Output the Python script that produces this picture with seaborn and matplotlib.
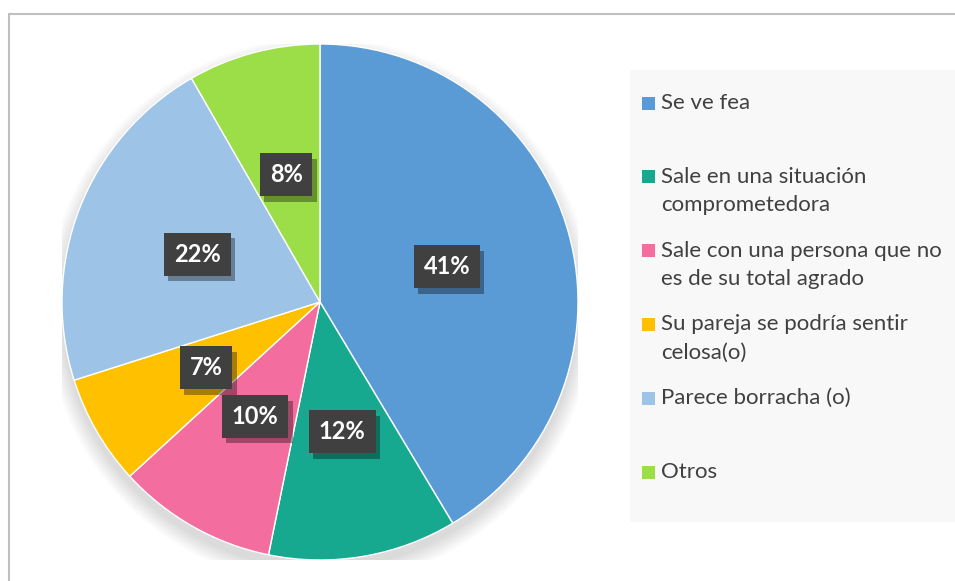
import matplotlib
matplotlib.use("Agg")
import matplotlib.pyplot as plt
import matplotlib.patches as mpatches
import matplotlib.patheffects as pe
import numpy as np
import seaborn as sns

categories = ["Se ve fea", "Sale en una situación\ncomprometedora",
              "Sale con una persona que no\nes de su total agrado",
              "Su pareja se podría sentir\ncelosa(o)", "Parece borracha (o)", "Otros"]
values = [41.4, 11.8, 10.0, 6.9, 21.6, 8.3]
colors_hex = ["#5B9BD5", "#17A990", "#F46D9F", "#FFC000", "#9DC3E6", "#9BDE48"]

sns.set_theme(style="white")
plt.rcParams['font.family'] = ['Lato', 'DejaVu Sans']
palette = sns.color_palette(colors_hex)

W, H = 955, 581
fig = plt.figure(figsize=(W / 100, H / 100), dpi=100)
fig.patch.set_facecolor("white")

# frame
fig.patches.append(mpatches.Rectangle((9 / W, -0.1), 1.2, (H - 14) / H + 0.1,
                                      transform=fig.transFigure, fill=False,
                                      edgecolor="#BFBFBF", linewidth=1.5))
# legend background
fig.patches.append(mpatches.Rectangle((630 / W, (H - 522) / H), (W - 630) / W, 452 / H,
                                      transform=fig.transFigure, facecolor="#F8F8F8",
                                      edgecolor="none", zorder=0))

cx, cy, r = 320, 302, 258
ax = fig.add_axes([(cx - r) / W, (H - cy - r) / H, 2 * r / W, 2 * r / H])

# soft shadow
for k in range(12):
    rr = 1.0 + 0.06 * (k / 11)
    ax.add_patch(mpatches.Circle((0, -0.035), rr, facecolor="black",
                                 alpha=0.012, edgecolor="none", zorder=0))

wedges, texts, autotexts = ax.pie(values, colors=palette, startangle=90, counterclock=False,
                                  radius=1.0, autopct=lambda p: f"{p:.0f}%", pctdistance=0.51,
                                  wedgeprops=dict(edgecolor="white", linewidth=1.0),
                                  textprops=dict(color="white", fontsize=17, fontweight="bold"))
ax.set_xlim(-1, 1)
ax.set_ylim(-1, 1)
ax.set_aspect("auto")
ax.axis("off")

for t in autotexts:
    t.set_zorder(4)
    t.set_bbox(dict(boxstyle="square,pad=0.42", facecolor="#404040", edgecolor="none"))
    t.get_bbox_patch().set_path_effects([
        pe.SimplePatchShadow(offset=(3, -4), shadow_rgbFace="black", alpha=0.35),
        pe.Normal()])

# legend
y0 = 103
step = 73.8
for i, (lab, col) in enumerate(zip(categories, palette)):
    yy = y0 + step * i
    fig.patches.append(mpatches.Rectangle((642 / W, (H - yy - 6.5) / H), 13 / W, 13 / H,
                                          transform=fig.transFigure, facecolor=col,
                                          edgecolor="none", zorder=2))
    fig.text(661 / W, (H - yy + 10) / H, lab, ha="left", va="top",
             fontsize=16, color="#404040", linespacing=1.5)

fig.savefig("out.png", dpi=100)
